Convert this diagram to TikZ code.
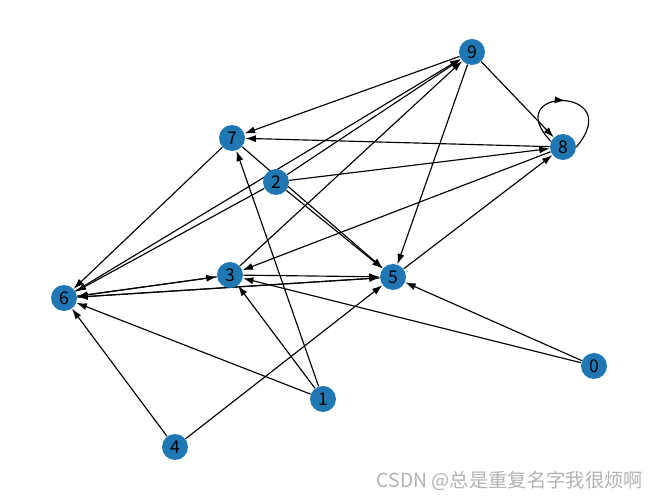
\documentclass[tikz,border=0pt]{standalone}
\usepackage{fontspec}
\newfontfamily\cjk{Noto Sans CJK SC}
\usetikzlibrary{arrows.meta,decorations.markings,backgrounds}
\definecolor{nodeblue}{HTML}{1F77B4}
\tikzset{
	vert/.style={circle, fill=nodeblue, minimum size=0.52cm, inner sep=0pt, font=\cjk\fontsize{10}{10}\selectfont},
	arc/.style={-{Latex[length=2.1mm,width=1.4mm]}, line width=0.65pt}
}
\begin{document}
\begin{tikzpicture}[x=0.02cm, y=-0.02cm]
	\useasboundingbox (0,0) rectangle (660,499);
	% vertices, in pixel positions of the layout
	\foreach \n/\x/\y in {0/594/366, 1/323/399, 2/276/182, 3/230/275, 4/175/447, 5/393/277, 6/64/298, 7/232/138, 8/563/147, 9/472/52} {
		\node[vert] (n\n) at (\x,\y) {\n};
	}
	\begin{scope}[on background layer]
	% directed edges
	\foreach \a/\b in {0/3, 0/5, 1/3, 1/6, 1/7, 2/5, 2/6, 2/8, 2/9, 3/5, 3/6, 3/9, 4/5, 4/6, 5/6, 5/8, 6/3, 6/5, 6/9, 7/5, 7/6, 8/3, 8/7, 9/5, 9/7, 9/8} {
		\draw[arc] (n\a) -- (n\b);
	}
	% self loop on 8
	\draw[line width=0.65pt, postaction={decorate}, decoration={markings, mark=at position 0.5 with {\arrow{Latex[length=2.1mm,width=1.4mm]}}}]
		(n8.155) .. controls (498,86) and (628,86) .. (n8.0);
	\end{scope}
	% watermark
	\node[text=black!30, font=\cjk\fontsize{11}{11}\selectfont] (mark) at (510,481) {CSDN @总是重复名字我很烦啊};
\end{tikzpicture}
\end{document}
